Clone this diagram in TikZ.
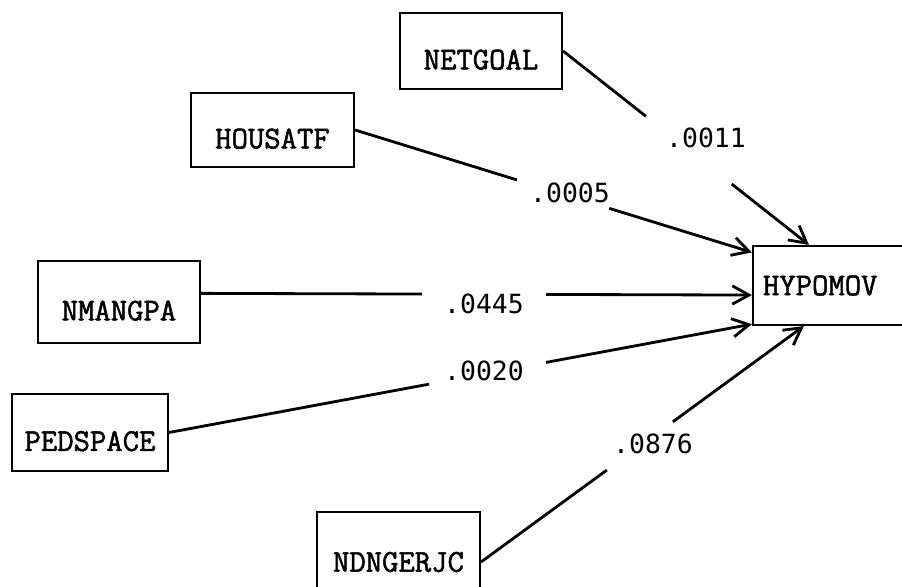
\documentclass[tikz,border=0pt]{standalone}
\usepackage{fontspec}
\newfontfamily\boxfont[FakeBold=1.6]{Latin Modern Mono}
\newfontfamily\numfont{DejaVu Sans Mono}
\usetikzlibrary{arrows.meta}

\begin{document}
\begin{tikzpicture}[
        var/.style={draw, line width=1.5pt, minimum width=4.05cm, minimum height=1.9cm,
            text height=0.92cm, text depth=0pt,
            font=\boxfont\fontsize{22.6pt}{23pt}\selectfont},
        weight/.style={inner sep=0pt, font=\numfont\fontsize{18.8pt}{19pt}\selectfont},
        link/.style={line width=2pt},
        tip/.style={-{Straight Barb[length=0.42cm, width=0.46cm, line width=2pt]}}
    ]
    \useasboundingbox (0,0) rectangle (22.55,14.675);

    \node[var] (netgoal) at (12.025,13.4) {NETGOAL};
    \node[var, minimum width=4.075cm, minimum height=1.85cm] (housatf) at (6.8125,11.425) {HOUSATF};
    \node[var, minimum height=2.05cm] (nmangpa) at (2.975,7.125) {NMANGPA};
    \node[var, minimum width=3.9cm, minimum height=1.925cm] (pedspace) at (2.25,3.8625) {PEDSPACE};
    \node[var, minimum width=4.075cm, minimum height=2.5cm, text height=, text depth=] (ndngerjc) at (9.9625,0.625) {NDNGERJC};
    \node[var, minimum height=1.975cm, text width=4cm, align=left, inner xsep=0.25cm,
          text height=, text depth=] (hypomov) at (21.075,7.5375) {HYPOMOV};

    \node[weight] (w0011) at (17.65,11.225) {.0011};
    \node[weight] (w0005) at (14.25,9.85) {.0005};
    \node[weight] (w0445) at (12.1,7.075) {.0445};
    \node[weight] (w0020) at (12.1,5.4) {.0020};
    \node[weight] (w0876) at (16.325,3.575) {.0876};

    % each path is broken where its weight is printed
    \draw[link, shorten >=5.19cm] (netgoal.east) -- (hypomov.130);
    \draw[link, tip, shorten <=5.37cm] (netgoal.east) -- (hypomov.130);
    \draw[link, shorten >=6.15cm] (housatf.east) -- (hypomov.160);
    \draw[link, tip, shorten <=6.65cm] (housatf.east) -- (hypomov.160);
    \draw[link, shorten >=8.25cm] (nmangpa.6) -- (hypomov.186);
    \draw[link, tip, shorten <=8.625cm] (nmangpa.6) -- (hypomov.186);
    \draw[link, shorten >=8.21cm] (pedspace.east) -- (hypomov.203);
    \draw[link, tip, shorten <=9.585cm] (pedspace.east) -- (hypomov.203);
    \draw[link, shorten >=6.1cm] (ndngerjc.east) -- (hypomov.-134);
    \draw[link, tip, shorten <=5.94cm] (ndngerjc.east) -- (hypomov.-134);
\end{tikzpicture}
\end{document}
